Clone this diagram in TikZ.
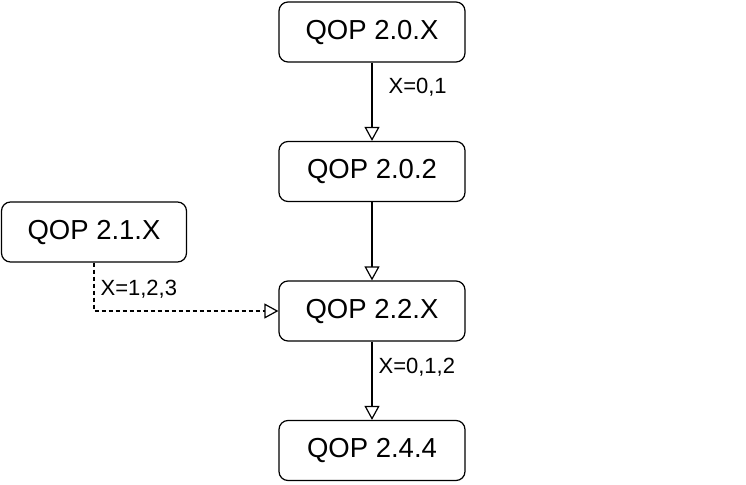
\documentclass[tikz,border=0pt]{standalone}
\usepackage{fontspec}
\setmainfont{Liberation Sans}
\usetikzlibrary{arrows.meta}

\tikzset{
	qop/.style={draw,line width=1.2pt,rounded corners=9pt,minimum width=186pt,minimum height=60pt,font=\fontsize{27.5}{32}\selectfont},
	lbl/.style={font=\fontsize{22}{26}\selectfont,inner sep=0pt,anchor=west},
	opentip/.style={-{Triangle[open,length=14pt,width=15pt]},line width=1.2pt}
}

\begin{document}
\begin{tikzpicture}[x=1pt,y=-1pt]
	\useasboundingbox (0,0) rectangle (746,484);
	\foreach \v [count=\n] in 
		{2.0.X,2.0.2,2.2.X,2.4.4}
		\node[qop] (N\n) at (372,{32+(\n-1)*139.5}) {QOP \v};
	
	\node[qop,minimum width=185pt] (N5) at (94,232) {QOP 2.1.X};
	
	\path[opentip]
		(N1.south) edge node[lbl,pos=0.32,xshift=16pt] {X=0,1} (N2.north)
		(N2.south) edge (N3.north)
		(N3.south) edge node[lbl,pos=0.33,xshift=6pt] {X=0,1,2} (N4.north);
	
	\draw[opentip,dash pattern=on 4pt off 3pt] (N5.south) |- node[lbl,pos=0.27,xshift=6pt] {X=1,2,3} (N3.west);
\end{tikzpicture}
\end{document}
